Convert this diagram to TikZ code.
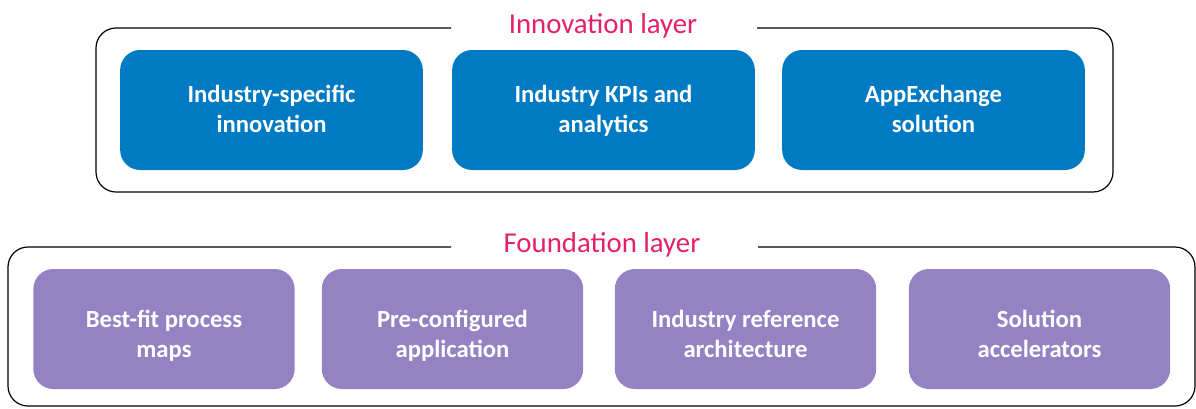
\documentclass[tikz,border=0pt]{standalone}
\usepackage{fontspec}
\setmainfont{Carlito}
\usepackage{tikz}

\definecolor{innoblue}{RGB}{0,122,194}
\definecolor{foundpurple}{RGB}{149,130,194}
\definecolor{layerpink}{RGB}{228,32,104}

\tikzset{
  innobox/.style={fill=innoblue, rounded corners=15pt, minimum width=227pt,
    minimum height=90pt, align=center, text=white, text height=33pt, text depth=0pt,
    font=\fontsize{18.5}{22.5}\selectfont\bfseries},
  % purple text sits a little lower in its box
  foundbox/.style={innobox, fill=foundpurple, minimum width=196pt, text height=42pt},
  layertitle/.style={text=layerpink, anchor=base, font=\fontsize{21.6}{24}\selectfont},
  layerframe/.style={black, line width=0.9pt, rounded corners=15pt}
}

\begin{document}
\begin{tikzpicture}[x=0.75pt, y=-0.75pt]
\useasboundingbox (0,0) rectangle (1196,408);

% innovation layer
\node[layertitle] (innotitle) at (603,33) {Innovation layer};
\draw[layerframe] (451,28) -- (96,28) -- (96,192) -- (1113,192) -- (1113,28) -- (757,28);
\node[innobox] (inno1) at (271.5,110) {Industry-specific\\innovation};
\node[innobox] (inno2) at (603.5,110) {Industry KPIs and\\analytics};
\node[innobox] (inno3) at (933.5,110) {AppExchange\\solution};

% foundation layer
\node[layertitle] (foundtitle) at (602,252) {Foundation layer};
\draw[layerframe] (451,247) -- (8,247) -- (8,406) -- (1195,406) -- (1195,247) -- (758,247);
\node[foundbox] (found1) at (164,329) {Best-fit process\\maps};
\node[foundbox] (found2) at (452.5,329) {Pre-configured\\application};
\node[foundbox] (found3) at (745.5,329) {Industry reference\\architecture};
\node[foundbox] (found4) at (1039.5,329) {Solution\\accelerators};
\end{tikzpicture}
\end{document}
